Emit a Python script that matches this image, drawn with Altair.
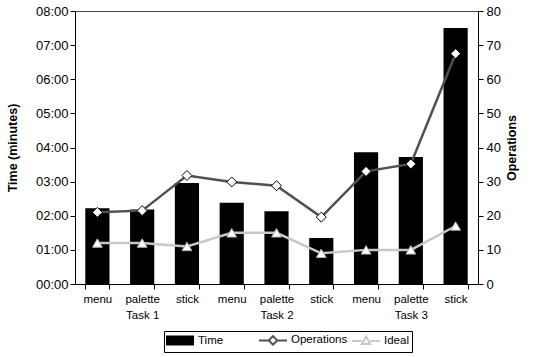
import altair as alt
import pandas as pd

tasks = ["Task 1"] * 3 + ["Task 2"] * 3 + ["Task 3"] * 3
methods = ["menu", "palette", "stick"] * 3
time_minutes = [2.22, 2.18, 2.96, 2.38, 2.13, 1.35, 3.86, 3.72, 7.50]
operations = [21.0, 21.5, 31.8, 29.9, 28.8, 19.6, 33.0, 35.2, 67.5]
ideal = [12, 12, 11, 15, 15, 9, 10, 10, 17]
series_names = ["Time", "Operations", "Ideal"]
time_ticks = [0, 1, 2, 3, 4, 5, 6, 7, 8]
ops_ticks = [0, 10, 20, 30, 40, 50, 60, 70, 80]

keys = [f"{i}|{m}|{t}" for i, (m, t) in enumerate(zip(methods, tasks))]
df = pd.DataFrame({"key": keys, "time": time_minutes, "ops": operations, "ideal": ideal})
legend_df = pd.DataFrame({"series": series_names})

FONT = "Liberation Sans"
label_expr = ("split(datum.value,'|')[1] == 'palette' ? "
              "[split(datum.value,'|')[1], split(datum.value,'|')[2]] : split(datum.value,'|')[1]")

x = alt.X("key:N", sort=keys, title=None,
          scale=alt.Scale(paddingInner=0.46, paddingOuter=0.23),
          axis=alt.Axis(labelExpr=label_expr, labelAngle=0, tickBand="extent",
                        labelLineHeight=16, labelPadding=4, tickSize=5,
                        labelFontSize=11.5, labelColor="black", domainColor="black",
                        tickColor="black", labelBaseline="top"))

bars = alt.Chart(df).mark_bar(color="black").encode(
    x=x,
    y=alt.Y("time:Q", scale=alt.Scale(domain=[0, 8]),
            axis=alt.Axis(values=time_ticks, labelExpr="'0' + datum.value + ':00'",
                          title="Time (minutes)", titleFontSize=12.5, titleFontWeight="bold",
                          titlePadding=16, labelFontSize=13, labelColor="black", labelPadding=2,
                          tickColor="black", domainColor="black", tickSize=5, grid=False)),
)

ops_axis = alt.Axis(values=ops_ticks, orient="right", title="Operations",
                    titleAngle=270, titleBaseline="top", titleFontSize=12.5, titleFontWeight="bold",
                    titlePadding=5, labelFontSize=13, labelColor="black", labelPadding=3,
                    tickColor="black", domainColor="black", tickSize=5, grid=False)
y_ops = alt.Y("ops:Q", scale=alt.Scale(domain=[0, 80]), axis=ops_axis)
y_ideal = alt.Y("ideal:Q", scale=alt.Scale(domain=[0, 80]), axis=ops_axis)

ops_line = alt.Chart(df).mark_line(color="#505050", strokeWidth=2.5).encode(x=x, y=y_ops)
ops_pts = alt.Chart(df).mark_point(shape="diamond", filled=True, fill="white",
                                   stroke="black", strokeWidth=1, size=100, opacity=1).encode(x=x, y=y_ops)
ideal_line = alt.Chart(df).mark_line(color="#c8c8c8", strokeWidth=2.5).encode(x=x, y=y_ideal)
ideal_pts = alt.Chart(df).mark_point(shape="triangle-up", filled=True, fill="white",
                                     stroke="#b0b0b0", strokeWidth=1, size=95, opacity=1).encode(x=x, y=y_ideal)

right = alt.layer(ops_line, ops_pts, ideal_line, ideal_pts)

shape_paths = [
    "M-2.6,-0.8H2.6V0.8H-2.6Z",
    "M-2.8,0H-0.85M0.85,0H2.8M0,-0.85L0.85,0L0,0.85L-0.85,0Z",
    "M-2.8,0H-0.85M0.85,0H2.8M0,-0.9L0.85,0.6L-0.85,0.6Z",
]
leg = alt.Legend(title=None, orient="none", legendX=89, legendY=320, direction="horizontal",
                 strokeColor="black", padding=3, symbolSize=100, symbolOffset=7,
                 labelOffset=12, columnPadding=0, gridAlign="all", labelFontSize=11.5,
                 labelColor="black", symbolStrokeWidth=2, symbolOpacity=1)
legend_layer = alt.Chart(legend_df).mark_point(filled=True).encode(
    shape=alt.Shape("series:N", scale=alt.Scale(domain=series_names, range=shape_paths), legend=leg),
    fill=alt.Fill("series:N", scale=alt.Scale(domain=series_names, range=["black", "white", "white"]), legend=leg),
    stroke=alt.Stroke("series:N", scale=alt.Scale(domain=series_names, range=["black", "#505050", "#c8c8c8"]), legend=leg),
).transform_filter("false")

chart = alt.layer(bars, right, legend_layer).resolve_scale(y="independent").properties(
    width=403, height=273, padding={"left": 6, "top": 5, "right": 5, "bottom": 5}
).configure(font=FONT).configure_view(stroke="#444", strokeWidth=1)

chart.save("out.html", embed_options={"renderer": "svg", "actions": False})
